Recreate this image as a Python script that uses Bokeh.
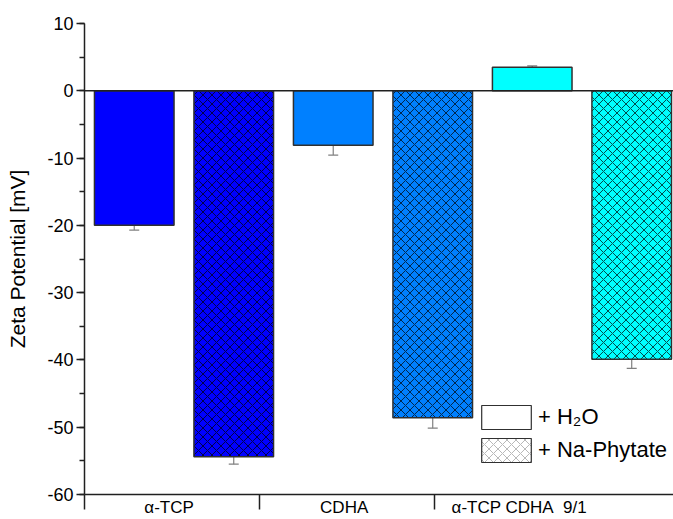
from bokeh.plotting import figure
from bokeh.models import (ColumnDataSource, Range1d, FixedTicker, SingleIntervalTicker,
                          Whisker, TeeHead, Span, Legend, LegendItem)
from bokeh.embed import file_html
from bokeh.resources import INLINE

# Zeta potential of the powders in water and in sodium phytate solution
categories = ["α-TCP", "CDHA", "α-TCP CDHA\u00a0 9/1"]
colors = ["#0000FF", "#0080FF", "#00FFFF"]
zeta_h2o = [-20.0, -8.1, 3.5]
err_h2o = [0.7, 1.45, 0.2]
zeta_phytate = [-54.4, -48.6, -39.9]
err_phytate = [1.1, 1.55, 1.35]
y_ticks = [-60, -50, -40, -30, -20, -10, 0, 10]

FONT = "Liberation Sans"

# two bars per material: water first, phytate second
n = len(categories)
x_h2o = [2 * i + 1 for i in range(n)]
x_phy = [2 * i + 2 for i in range(n)]

src_h2o = ColumnDataSource(dict(
    x=x_h2o, top=zeta_h2o, color=colors,
    upper=[v + e for v, e in zip(zeta_h2o, err_h2o)],
    lower=[v - e for v, e in zip(zeta_h2o, err_h2o)]))
src_phy = ColumnDataSource(dict(
    x=x_phy, top=zeta_phytate, color=colors,
    upper=[v + e for v, e in zip(zeta_phytate, err_phytate)],
    lower=[v - e for v, e in zip(zeta_phytate, err_phytate)]))

p = figure(width=673, height=519, output_backend="svg", toolbar_location=None,
           x_range=Range1d(0.5, 6.42), y_range=Range1d(-60, 10),
           min_border_left=84, min_border_right=0, min_border_top=23,
           min_border_bottom=25)
p.outline_line_color = None
p.xgrid.visible = False
p.ygrid.visible = False
p.background_fill_color = "white"

bar_kw = dict(width=0.8, bottom=0, line_color="#303030", line_width=1.5)
p.vbar(x="x", top="top", fill_color="color", source=src_h2o, **bar_kw)
p.vbar(x="x", top="top", fill_color="color", source=src_phy,
       hatch_pattern="diagonal_cross", hatch_color="black", hatch_scale=9,
       hatch_weight=0.7, **bar_kw)

for src in (src_h2o, src_phy):
    p.add_layout(Whisker(source=src, base="x", upper="upper", lower="lower",
                         line_color="#808080", line_width=1.2,
                         upper_head=TeeHead(size=10, line_color="#808080", line_width=1.2),
                         lower_head=TeeHead(size=10, line_color="#808080", line_width=1.2)))

# zero baseline
p.add_layout(Span(location=0, dimension="width", line_color="#202020", line_width=1.5))

# y axis
ya = p.yaxis[0]
ya.ticker = SingleIntervalTicker(interval=10, num_minor_ticks=2)
ya.major_label_overrides = {t: str(t) for t in y_ticks}
ya.axis_label = "Zeta Potential [mV]"
ya.axis_label_text_font = FONT
ya.axis_label_text_font_size = "21px"
ya.axis_label_text_font_style = "normal"
ya.axis_label_text_color = "black"
ya.axis_label_standoff = 15
ya.major_label_text_font = FONT
ya.major_label_text_font_size = "18px"
ya.major_label_text_color = "black"
ya.major_label_standoff = 3
ya.major_tick_out = 8
ya.major_tick_in = 0
ya.minor_tick_out = 5
ya.minor_tick_in = 0

# x axis: group separators as ticks, group names centred between them
group_edges = [0.5, 2.26, 4.02]
label_pos = [1.35, 3.11, 4.87]
xa = p.xaxis[0]
xa.ticker = FixedTicker(ticks=label_pos, minor_ticks=group_edges)
xa.major_label_overrides = {pos: name for pos, name in zip(label_pos, categories)}
xa.major_label_text_font = FONT
xa.major_label_text_font_size = "17px"
xa.major_label_text_color = "black"
xa.major_label_standoff = -12
xa.major_tick_out = 0
xa.major_tick_in = 0
xa.minor_tick_out = 15
xa.minor_tick_in = 0

for a in (xa, ya):
    a.axis_line_width = 1.5
    a.axis_line_color = "#202020"
    a.major_tick_line_width = 1.5
    a.major_tick_line_color = "#202020"
    a.minor_tick_line_width = 1.5
    a.minor_tick_line_color = "#202020"

# legend swatches (no visible data of their own)
nan = float("nan")
r_w = p.vbar(x=[nan], top=[nan], width=0.8, fill_color="white",
             line_color="#303030", line_width=1.2)
r_p = p.vbar(x=[nan], top=[nan], width=0.8, fill_color="white",
             line_color="#303030", line_width=1.2,
             hatch_pattern="diagonal_cross", hatch_color="#999999", hatch_scale=9,
             hatch_weight=0.7)
legend = Legend(items=[LegendItem(label="+ H₂O", renderers=[r_w]),
                       LegendItem(label="+ Na-Phytate", renderers=[r_p])],
                location=(391, 29), glyph_width=62, glyph_height=30, spacing=3,
                padding=0, margin=0, label_standoff=1,
                label_text_font=FONT, label_text_font_size="22px",
                label_text_color="black",
                border_line_alpha=0, background_fill_alpha=0)
p.add_layout(legend)

open("out.html", "w").write(file_html(p, INLINE))
